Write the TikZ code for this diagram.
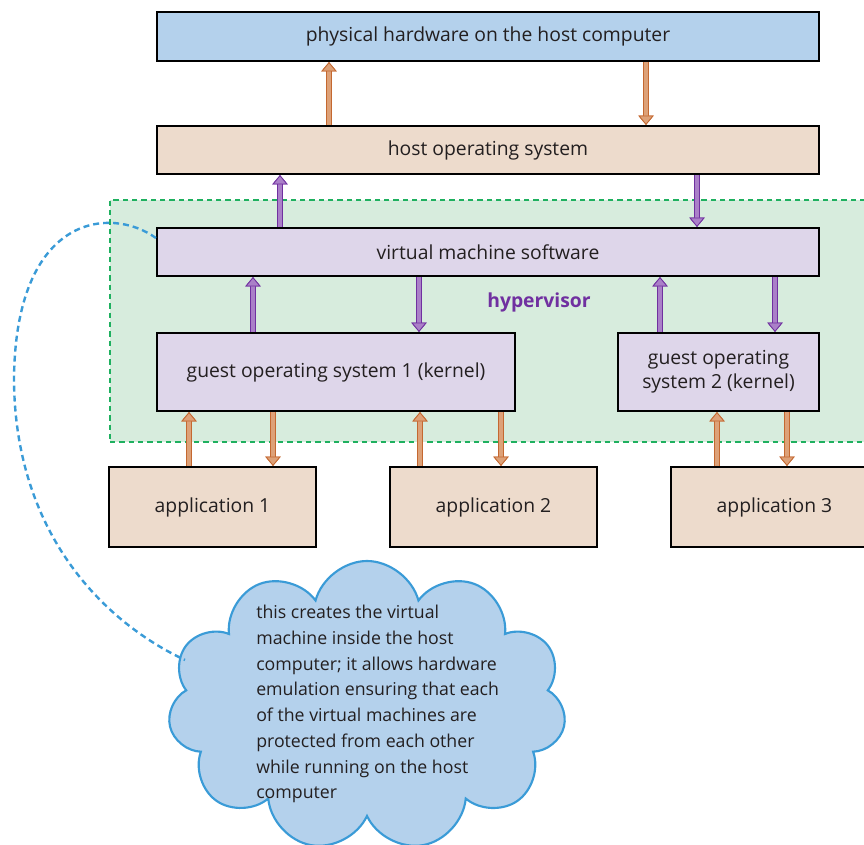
\documentclass[tikz,border=0pt]{standalone}
\usepackage{fontspec}
\setmainfont{Open Sans}
\usetikzlibrary{arrows.meta,shapes.symbols}

\definecolor{hwblue}{RGB}{180,209,236}
\definecolor{ostan}{RGB}{237,219,204}
\definecolor{vmlilac}{RGB}{222,214,234}
\definecolor{hypgreen}{RGB}{215,236,221}
\definecolor{hypline}{RGB}{30,176,95}
\definecolor{orfill}{RGB}{221,161,120}
\definecolor{oredge}{RGB}{196,104,48}
\definecolor{pufill}{RGB}{170,128,200}
\definecolor{puedge}{RGB}{112,48,160}
\definecolor{cloudedge}{RGB}{58,155,215}
\definecolor{inktext}{RGB}{35,31,32}

\tikzset{
  box/.style={draw=black, line width=1.6pt, rectangle, inner sep=0pt, align=center,
    text=inktext, font=\fontsize{14.5}{18}\selectfont},
  orarrow/.style={-{Triangle[length=7pt,width=11.5pt,line width=0.6pt,color=oredge,fill=orfill]},
    line width=3.4pt, draw=orfill, preaction={draw=oredge, line width=5pt}},
  puarrow/.style={-{Triangle[length=7pt,width=11.5pt,line width=0.6pt,color=puedge,fill=pufill]},
    line width=3.4pt, draw=pufill, preaction={draw=puedge, line width=5pt}}
}

\begin{document}
\begin{tikzpicture}[x=0.75pt,y=-0.75pt]
  \useasboundingbox (0,0) rectangle (864,845);

  % hypervisor region
  \node[draw=hypline, fill=hypgreen, dash pattern=on 4pt off 3pt, line width=0.8pt, rectangle, inner sep=0pt,
    minimum width=770*0.75pt, minimum height=242*0.75pt] (hyp) at (495,321) {};
  \node[text=puedge, font=\fontsize{14.5}{18}\selectfont\bfseries] (hyplabel) at (539,302) {hypervisor};

  % layers
  \node[box, fill=hwblue, minimum width=662*0.75pt, minimum height=49*0.75pt] (hw) at (488,36.5)
    {physical hardware on the host computer};
  \node[box, fill=ostan, minimum width=662*0.75pt, minimum height=48*0.75pt] (host) at (488,150)
    {host operating system};
  \node[box, fill=vmlilac, minimum width=662*0.75pt, minimum height=48*0.75pt] (vm) at (488,252)
    {virtual machine software};
  \node[box, fill=vmlilac, minimum width=358*0.75pt, minimum height=78*0.75pt] (guest1) at (336,372)
    {guest operating system 1 (kernel)};
  \node[box, fill=vmlilac, minimum width=201*0.75pt, minimum height=78*0.75pt] (guest2) at (718.5,372)
    {guest operating\\system 2 (kernel)};

  % applications
  \node[box, fill=ostan, minimum width=207*0.75pt, minimum height=80*0.75pt] (app1) at (212.5,507) {application 1};
  \node[box, fill=ostan, minimum width=207*0.75pt, minimum height=80*0.75pt] (app2) at (493.5,507) {application 2};
  \node[box, fill=ostan, minimum width=207*0.75pt, minimum height=80*0.75pt] (app3) at (774.5,507) {application 3};

  % host <-> hardware
  \draw[orarrow] (329,0 |- host.north) -- (329,0 |- hw.south);
  \draw[orarrow] (646,0 |- hw.south) -- (646,0 |- host.north);

  % vm software <-> host
  \draw[puarrow] (280,0 |- vm.north) -- (280,0 |- host.south);
  \draw[puarrow] (697,0 |- host.south) -- (697,0 |- vm.north);

  % guests <-> vm software
  \draw[puarrow] (253,0 |- guest1.north) -- (253,0 |- vm.south);
  \draw[puarrow] (419,0 |- vm.south) -- (419,0 |- guest1.north);
  \draw[puarrow] (660,0 |- guest2.north) -- (660,0 |- vm.south);
  \draw[puarrow] (775,0 |- vm.south) -- (775,0 |- guest2.north);

  % applications <-> guests
  \draw[orarrow] (189,0 |- app1.north) -- (189,0 |- guest1.south);
  \draw[orarrow] (273,0 |- guest1.south) -- (273,0 |- app1.north);
  \draw[orarrow] (420,0 |- app2.north) -- (420,0 |- guest1.south);
  \draw[orarrow] (501,0 |- guest1.south) -- (501,0 |- app2.north);
  \draw[orarrow] (717,0 |- app3.north) -- (717,0 |- guest2.south);
  \draw[orarrow] (787,0 |- guest2.south) -- (787,0 |- app3.north);

  % note cloud
  \node[cloud, cloud puffs=11, aspect=1.4, draw=cloudedge, fill=hwblue, line width=1.6pt,
    minimum width=398*0.75pt, minimum height=290*0.75pt] (note) at (367,706) {};
  \node[anchor=north west, align=left, text=inktext, inner sep=0pt,
    font=\fontsize{13.3}{19.3}\selectfont] (notetext) at (256,605)
    {this creates the virtual\\machine inside the host\\computer; it allows hardware\\emulation ensuring that each\\of the virtual machines are\\protected from each other\\while running on the host\\computer};
  \coordinate (tail) at (185,660);
  \draw[cloudedge, line width=1.8pt, dash pattern=on 4.5pt off 3pt]
    ([yshift=10.5pt]vm.west) .. controls (110,205) and (15,215) .. (14,380)
    .. controls (15,530) and (100,620) .. (tail);
\end{tikzpicture}
\end{document}
